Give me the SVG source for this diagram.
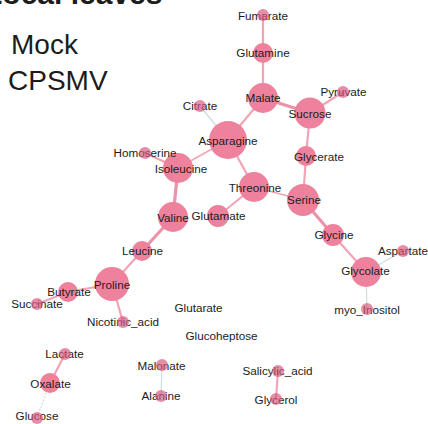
<svg xmlns="http://www.w3.org/2000/svg" width="428" height="424" viewBox="0 0 428 424">
  <style>
    text { font-family: "Liberation Sans", Arial, sans-serif; fill: #1c1c1c; }
    .lbl { font-size: 11.7px; text-anchor: middle; }
    .big { fill: #ee829c; }
    .small { fill: #d9587e; fill-opacity: 0.68; }
    .e { stroke: #f2a3b6; stroke-linecap: round; fill: none; }
    .w1 { stroke-width: 1.5; }
    .w2 { stroke-width: 2.2; }
    .w3 { stroke-width: 3.2; stroke: #ea93a9; }
    .neg { stroke: #cddde0; stroke-width: 1.2; fill: none; }
    .title { font-size: 30px; font-weight: bold; }
    .legend { font-size: 28px; }
  </style>
  <rect width="428" height="424" fill="#ffffff"/>

  <!-- heading, clipped by the top edge -->
  <text class="title" x="-16" y="4">Local leaves</text>
  <text class="legend" x="11" y="54">Mock</text>
  <text class="legend" x="8" y="90">CPSMV</text>

  <g id="connectors">
    <line class="e w2" x1="263" y1="15" x2="263" y2="53"/>
    <line class="e w2" x1="263" y1="53" x2="263" y2="98"/>
    <line class="e w3" x1="263" y1="98" x2="310" y2="113"/>
    <line class="e w2" x1="263" y1="98" x2="228" y2="140"/>
    <line class="e w2" x1="310" y1="113" x2="343" y2="92"/>
    <line class="e w2" x1="310" y1="113" x2="306" y2="156"/>
    <line class="neg" x1="200" y1="106" x2="228" y2="140"/>
    <line class="e w1" x1="228" y1="140" x2="178" y2="168"/>
    <line class="e w2" x1="228" y1="140" x2="254" y2="187"/>
    <line class="e w2" x1="145" y1="153" x2="178" y2="168"/>
    <line class="e w3" x1="178" y1="168" x2="173" y2="217"/>
    <line class="e w2" x1="254" y1="187" x2="218" y2="216"/>
    <line class="e w1" x1="254" y1="187" x2="303" y2="200"/>
    <line class="e w2" x1="306" y1="156" x2="303" y2="200"/>
    <line class="e w3" x1="303" y1="200" x2="333" y2="235"/>
    <line class="e w2" x1="333" y1="235" x2="366" y2="272"/>
    <line class="neg" x1="366" y1="272" x2="403" y2="251"/>
    <line class="neg" x1="366" y1="272" x2="367" y2="309"/>
    <line class="e w3" x1="173" y1="217" x2="142" y2="251"/>
    <line class="e w2" x1="142" y1="251" x2="112" y2="284"/>
    <line class="e w2" x1="112" y1="284" x2="68" y2="292"/>
    <line class="e w2" x1="112" y1="284" x2="123" y2="322"/>
    <line class="e w2" x1="68" y1="292" x2="37" y2="304"/>
    <line class="e w2" x1="65" y1="354" x2="50" y2="383"/>
    <line class="neg" x1="50" y1="383" x2="37" y2="418" stroke-dasharray="2 1.5"/>
    <line class="neg" x1="162" y1="365" x2="161" y2="396"/>
    <line class="e w2" x1="278" y1="371" x2="276" y2="399"/>
  </g>

  <!-- larger nodes: circle under its label -->
  <g id="node-glutamine"><circle class="big" cx="263" cy="53" r="10"/><text class="lbl" x="263" y="57">Glutamine</text></g>
  <g id="node-malate"><circle class="big" cx="263" cy="98" r="15"/><text class="lbl" x="263" y="102">Malate</text></g>
  <g id="node-sucrose"><circle class="big" cx="310" cy="113" r="15.5"/><text class="lbl" x="310" y="118">Sucrose</text></g>
  <g id="node-asparagine"><circle class="big" cx="228" cy="140" r="19"/><text class="lbl" x="228" y="145">Asparagine</text></g>
  <g id="node-isoleucine"><circle class="big" cx="178" cy="168" r="15"/><text class="lbl" x="181" y="172.5">Isoleucine</text></g>
  <g id="node-glycerate"><circle class="big" cx="306" cy="156" r="10"/><text class="lbl" x="319" y="161">Glycerate</text></g>
  <g id="node-threonine"><circle class="big" cx="254" cy="187" r="15"/><text class="lbl" x="255" y="192">Threonine</text></g>
  <g id="node-serine"><circle class="big" cx="303" cy="200" r="16"/><text class="lbl" x="304" y="204">Serine</text></g>
  <g id="node-valine"><circle class="big" cx="173" cy="217" r="15"/><text class="lbl" x="173" y="221.5">Valine</text></g>
  <g id="node-glutamate"><circle class="big" cx="218" cy="216" r="11"/><text class="lbl" x="218.5" y="220">Glutamate</text></g>
  <g id="node-glycine"><circle class="big" cx="333" cy="235" r="11"/><text class="lbl" x="334" y="238.5">Glycine</text></g>
  <g id="node-leucine"><circle class="big" cx="142" cy="251" r="10"/><text class="lbl" x="142.5" y="255">Leucine</text></g>
  <g id="node-glycolate"><circle class="big" cx="366" cy="272" r="15"/><text class="lbl" x="365.5" y="275">Glycolate</text></g>
  <g id="node-proline"><circle class="big" cx="112" cy="284" r="17"/><text class="lbl" x="112" y="288.5">Proline</text></g>
  <g id="node-butyrate"><circle class="big" cx="68" cy="292" r="10"/><text class="lbl" x="69" y="296">Butyrate</text></g>
  <g id="node-oxalate"><circle class="big" cx="50" cy="383" r="10"/><text class="lbl" x="50.5" y="388">Oxalate</text></g>

  <!-- unlinked labels -->
  <g id="node-glutarate"><text class="lbl" x="198.5" y="312">Glutarate</text></g>
  <g id="node-glucoheptose"><text class="lbl" x="221.5" y="339.5">Glucoheptose</text></g>

  <!-- small nodes: translucent circle drawn over its label -->
  <g id="node-fumarate"><text class="lbl" x="263" y="19.5">Fumarate</text><circle class="small" cx="263" cy="15" r="6"/></g>
  <g id="node-citrate"><text class="lbl" x="200" y="110">Citrate</text><circle class="small" cx="200" cy="106" r="6"/></g>
  <g id="node-pyruvate"><text class="lbl" x="343.5" y="96">Pyruvate</text><circle class="small" cx="343" cy="92" r="6"/></g>
  <g id="node-homoserine"><text class="lbl" x="145" y="157">Homoserine</text><circle class="small" cx="145" cy="153" r="6"/></g>
  <g id="node-aspartate"><text class="lbl" x="403" y="255">Aspartate</text><circle class="small" cx="403" cy="251" r="6"/></g>
  <g id="node-succinate"><text class="lbl" x="37" y="307.5">Succinate</text><circle class="small" cx="37" cy="304" r="6"/></g>
  <g id="node-myo-inositol"><text class="lbl" x="367" y="313.5">myo_Inositol</text><circle class="small" cx="367" cy="309" r="6"/></g>
  <g id="node-nicotinic-acid"><text class="lbl" x="123" y="326">Nicotinic_acid</text><circle class="small" cx="123" cy="322" r="6"/></g>
  <g id="node-lactate"><text class="lbl" x="64.5" y="358">Lactate</text><circle class="small" cx="65" cy="354" r="6"/></g>
  <g id="node-glucose"><text class="lbl" x="37" y="420">Glucose</text><circle class="small" cx="37" cy="418" r="6"/></g>
  <g id="node-malonate"><text class="lbl" x="161.5" y="369.5">Malonate</text><circle class="small" cx="162" cy="365" r="6"/></g>
  <g id="node-alanine"><text class="lbl" x="161" y="400">Alanine</text><circle class="small" cx="161" cy="396" r="6"/></g>
  <g id="node-salicylic-acid"><text class="lbl" x="277.5" y="375">Salicylic_acid</text><circle class="small" cx="278" cy="371" r="6"/></g>
  <g id="node-glycerol"><text class="lbl" x="276" y="403.5">Glycerol</text><circle class="small" cx="276" cy="399" r="6"/></g>
</svg>
